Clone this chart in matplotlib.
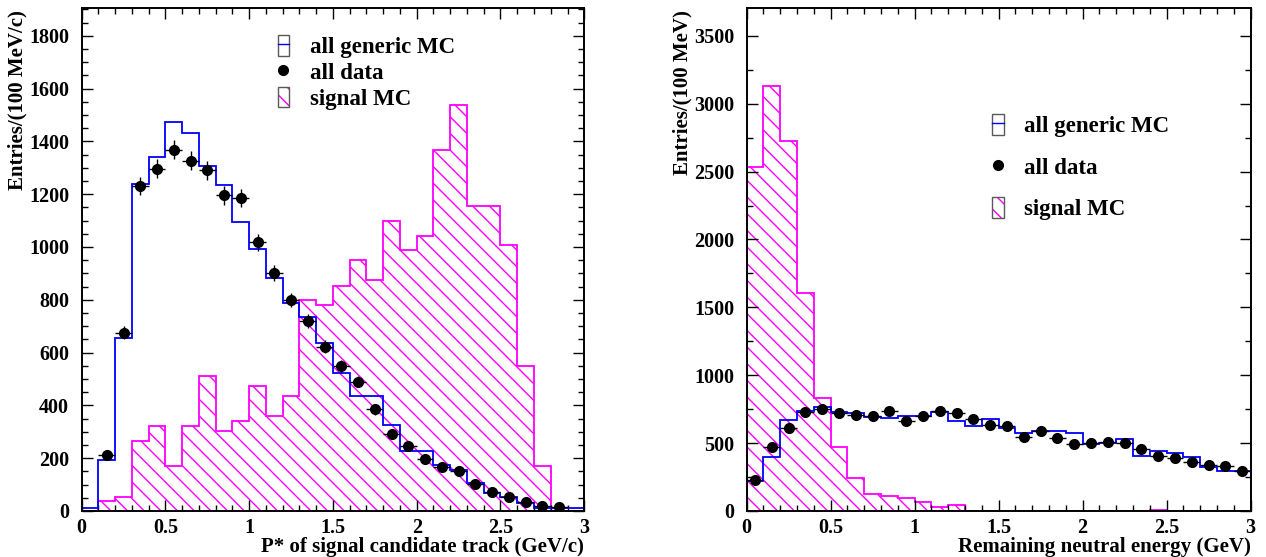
import numpy as np
import matplotlib
matplotlib.use("Agg")
import matplotlib.pyplot as plt
from matplotlib.patches import Patch
from matplotlib.lines import Line2D
from matplotlib.legend_handler import HandlerTuple
from matplotlib.ticker import MultipleLocator

plt.rcParams['font.family'] = ['Liberation Serif', 'DejaVu Serif']
plt.rcParams['font.weight'] = 'bold'
plt.rcParams['hatch.linewidth'] = 1.0

# ---------------- data ----------------
bin_edges = np.linspace(0.0, 3.0, 31)

# Left panel: P* of signal candidate track
p_generic_mc = [13, 193, 657, 1240, 1340, 1474, 1432, 1305, 1233, 1093,
                993, 883, 786, 736, 635, 521, 435, 435, 326, 228,
                228, 174, 155, 105, 69, 54, 29, 10, 13, 13]
p_signal_mc = [0, 38, 54, 265, 322, 170, 322, 511, 303, 341,
               473, 360, 435, 799, 780, 853, 950, 874, 1100, 987,
               1043, 1367, 1538, 1154, 1154, 1006, 550, 170, 0, 0]
p_data = [np.nan, 212, 676, 1230, 1296, 1369, 1327, 1291, 1195, 1185,
          1017, 903, 799, 720, 622, 549, 490, 385, 290, 247,
          197, 168, 151, 102, 73, 52, 34, 19, 16, np.nan]

# Right panel: remaining neutral energy
e_generic_mc = [221, 400, 670, 739, 764, 732, 724, 690, 688, 697,
                700, 732, 666, 629, 678, 609, 572, 592, 587, 572,
                494, 500, 528, 405, 442, 425, 396, 327, 295, 295]
e_signal_mc = [2533, 3132, 2727, 1604, 835, 474, 241, 123, 110, 98,
               64, 32, 44, 0, 0, 0, 0, 0, 0, 0,
               0, 0, 0, 0, 10, 0, 0, 0, 0, 0]
e_data = [228, 474, 612, 727, 749, 725, 707, 700, 739, 663,
          700, 739, 720, 678, 631, 629, 548, 587, 538, 494,
          504, 511, 499, 455, 408, 393, 361, 339, 332, 295]

x_ticks = [0, 0.5, 1, 1.5, 2, 2.5, 3]
x_tick_labels = ["0", "0.5", "1", "1.5", "2", "2.5", "3"]
left_y_ticks = [0, 200, 400, 600, 800, 1000, 1200, 1400, 1600, 1800]
right_y_ticks = [0, 500, 1000, 1500, 2000, 2500, 3000, 3500]

legend_labels = ["all generic MC", "all data", "signal MC"]

BLUE = '#0000ff'
MAGENTA = '#ff00ff'
TICK_FS = 14.5
LABEL_FS = 15
LEG_FS = 16.5

fig = plt.figure(figsize=(12.66, 5.57), dpi=100)
ax1 = fig.add_axes([0.0645, 0.0826, 0.397, 0.903])
ax2 = fig.add_axes([0.5898, 0.0826, 0.398, 0.903])

centers = 0.5 * (bin_edges[:-1] + bin_edges[1:])
half_w = 0.5 * np.diff(bin_edges)


def draw(ax, gen, sig, dat):
    ax.stairs(sig, bin_edges, fill=True, facecolor='none', edgecolor=MAGENTA,
              hatch='\\\\', linewidth=1.3, zorder=1)
    ax.stairs(gen, bin_edges, fill=False, edgecolor=BLUE, linewidth=1.3,
              baseline=0, zorder=2)
    d = np.asarray(dat, dtype=float)
    ax.errorbar(centers, d, xerr=half_w, yerr=np.sqrt(d), fmt='o',
                color='black', ecolor='black', markersize=7,
                elinewidth=1.0, capsize=0, zorder=3)


def style(ax, ymax, yticks, minor_y):
    ax.set_xlim(0, 3)
    ax.set_ylim(0, ymax)
    ax.set_xticks(x_ticks)
    ax.set_xticklabels(x_tick_labels)
    ax.set_yticks(yticks)
    ax.set_yticklabels([str(v) for v in yticks])
    ax.xaxis.set_minor_locator(MultipleLocator(0.1))
    ax.yaxis.set_minor_locator(MultipleLocator(minor_y))
    ax.tick_params(which='both', direction='in', top=True, right=True,
                   labelsize=TICK_FS, width=1.0)
    ax.tick_params(which='major', length=8)
    ax.tick_params(which='minor', length=4)
    ax.tick_params(axis='x', pad=5)
    ax.tick_params(axis='y', pad=9)
    for s in ax.spines.values():
        s.set_linewidth(1.4)


def legend(ax, anchor, spacing, fs):
    h_gen = (Patch(facecolor='white', edgecolor='0.35', linewidth=1.0),
             Line2D([], [], color=BLUE, linewidth=1.0))
    h_dat = Line2D([], [], marker='o', color='black', linestyle='none',
                   markersize=7)
    h_sig = (Patch(facecolor='white', edgecolor=MAGENTA, hatch='\\\\',
                   linewidth=0),
             Patch(fill=False, edgecolor='0.35', linewidth=1.0))
    ax.legend([h_gen, h_dat, h_sig], legend_labels,
              handler_map={tuple: HandlerTuple(ndivide=1, pad=0)},
              loc='upper left', bbox_to_anchor=anchor, frameon=False,
              fontsize=fs, handlelength=0.5, handleheight=1.0,
              handletextpad=0.9, labelspacing=spacing, borderpad=0,
              borderaxespad=0)


def labels(ax, xlabel, ylabel):
    ax.set_xlabel(xlabel, fontsize=LABEL_FS, fontweight='bold')
    ax.xaxis.set_label_coords(1.0, -0.0905)
    ax.xaxis.label.set_ha('right')
    ax.xaxis.label.set_va('bottom')
    ax.set_ylabel(ylabel, fontsize=LABEL_FS, fontweight='bold')
    ax.yaxis.set_label_coords(-0.108, 0.995)
    ax.yaxis.label.set_ha('right')


draw(ax1, p_generic_mc, p_signal_mc, p_data)
style(ax1, 1905, left_y_ticks, 50)
legend(ax1, (0.39, 0.946), 0.12, LEG_FS)
labels(ax1, "P* of signal candidate track (GeV/c)", "Entries/(100 MeV/c)")

draw(ax2, e_generic_mc, e_signal_mc, e_data)
style(ax2, 3705, right_y_ticks, 250)
legend(ax2, (0.487, 0.789), 0.8, LEG_FS)
labels(ax2, "Remaining neutral energy (GeV)", "Entries/(100 MeV)")

fig.savefig("out.png", dpi=100)
